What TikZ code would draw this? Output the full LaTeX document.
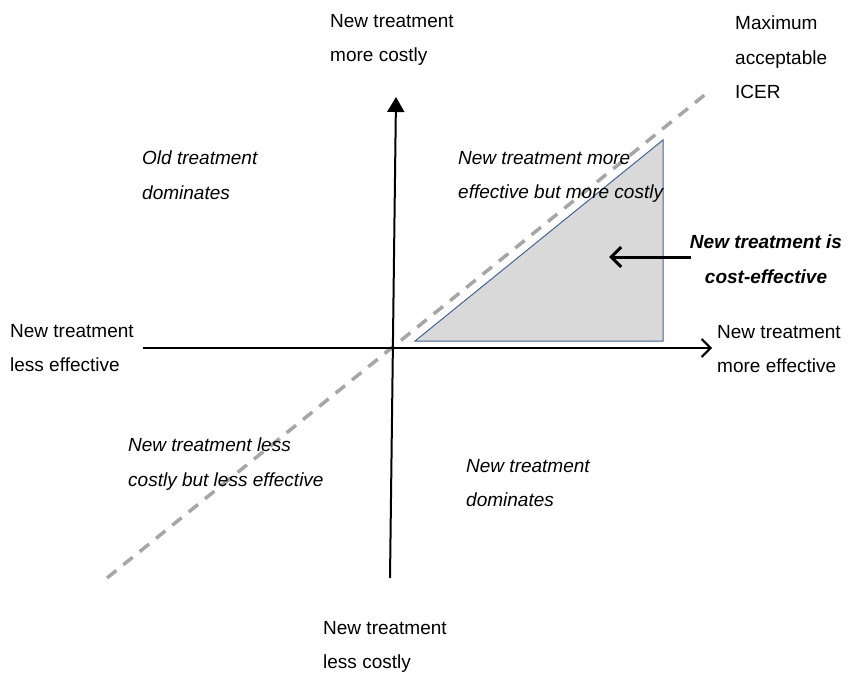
\documentclass[tikz,border=0pt]{standalone}
\usepackage{fontspec}
\setmainfont{Liberation Sans}
\usetikzlibrary{arrows.meta}
\definecolor{icergray}{RGB}{166,166,166}
\definecolor{regionfill}{RGB}{217,217,217}
\definecolor{regionedge}{RGB}{68,100,150}
\tikzset{
	axis label/.style={anchor=north west, inner sep=0, align=left, font=\fontsize{19}{34.5}\selectfont},
	region label/.style={axis label, font=\fontsize{19}{34.5}\selectfont\itshape},
	key label/.style={anchor=north, inner sep=0, align=center, font=\fontsize{19}{34.5}\selectfont\bfseries\itshape},
	axis line/.style={line width=2pt},
	icer line/.style={line width=3.5pt, icergray, dash pattern=on 12pt off 9pt},
	ce region/.style={fill=regionfill, draw=regionedge, line width=1pt},
}

\begin{document}
\begin{tikzpicture}[x=1pt, y=-1pt]
  \useasboundingbox (0,0) rectangle (866,679);

  % plane corners and ends
  \coordinate (icer0) at (107,578);
  \coordinate (icer1) at (707,93);
  \coordinate (xmin) at (143,348);
  \coordinate (xmax) at (712,348);
  \coordinate (ymin) at (390,578);
  \coordinate (ymax) at (396,97);
  \coordinate (ce1) at (415,341);
  \coordinate (ce2) at (663,140);
  \coordinate (ce3) at (663,341);
  \coordinate (ptrtail) at (691,257);
  \coordinate (ptrtip) at (609,257);

  % threshold line and acceptable region
  \draw[icer line] (icer0) -- (icer1);
  \draw[ce region] (ce1) -- (ce2) -- (ce3) -- cycle;

  % axes
  \draw[axis line, -{Straight Barb[length=9pt, width=18pt]}] (xmin) -- (xmax);
  \draw[axis line, -{Triangle[length=15pt, width=17pt]}] (ymin) -- (ymax);
  \draw[line width=3pt, -{Straight Barb[length=10pt, width=20pt]}] (ptrtail) -- (ptrtip);

  % axis labels
  \node (costup) [axis label] at (330,14) {New treatment\\more costly};
  \node (costdown) [axis label] at (323,621) {New treatment\\less costly};
  \node (effless) [axis label] at (10,324) {New treatment\\less effective};
  \node (effmore) [axis label] at (717,325) {New treatment\\more effective};
  \node (icer) [axis label] at (735,16) {Maximum\\acceptable\\ICER};

  % quadrant labels
  \node (olddom) [region label] at (142,151) {Old treatment\\dominates};
  \node (nemc) [region label] at (458,151) {New treatment more\\effective but more costly};
  \node (nlcle) [region label] at (128,438) {New treatment less\\costly but less effective};
  \node (newdom) [region label] at (466,459) {New treatment\\dominates};
  \node (costeff) [key label] at (766,235) {New treatment is\\cost-effective};

\end{tikzpicture}
\end{document}
